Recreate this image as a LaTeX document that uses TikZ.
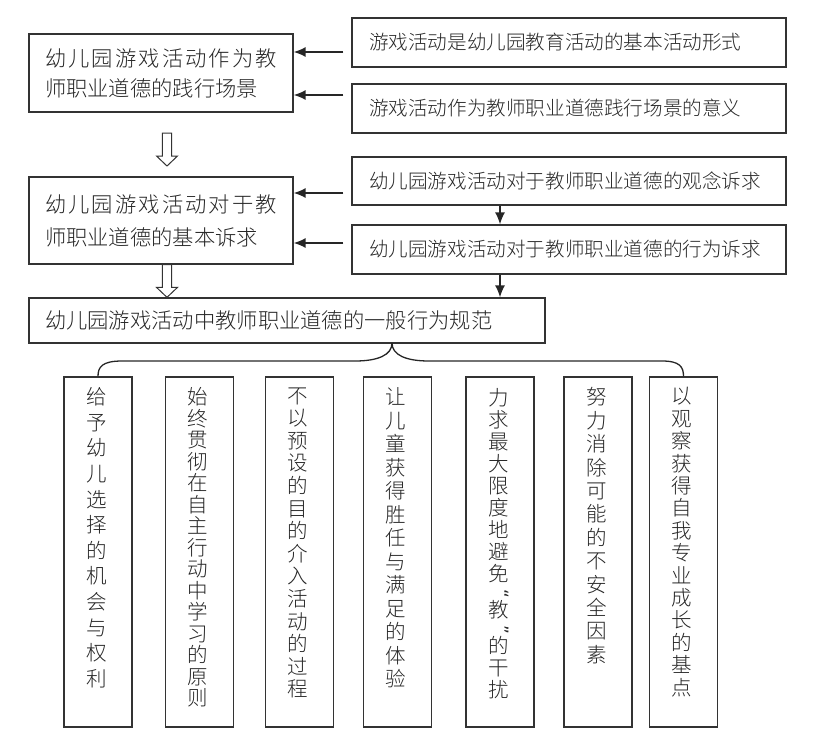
\documentclass[tikz,border=0pt]{standalone}
\usepackage{fontspec}
\setmainfont{Noto Sans CJK SC Light}
\newfontfamily\qfont{DejaVu Sans}
\usepackage{graphicx}
\usetikzlibrary{arrows.meta,calc}
\newcommand\qm[1]{\makebox[20pt][r]{\qfont\fontsize{17pt}{17pt}\selectfont\rotatebox[origin=c]{-90}{#1}}}
\newcommand\hollowarr[2]{\draw[hol] let \p1=(#1),\p2=(#2) in
  (\x1-4.7pt,\y1) -- (\x1-4.7pt,\y2+10pt) -- (\x1-10.5pt,\y2+10pt) -- (\x1,\y2)
  -- (\x1+10.5pt,\y2+10pt) -- (\x1+4.7pt,\y2+10pt) -- (\x1+4.7pt,\y1) -- cycle;}
\begin{document}
\begin{tikzpicture}[x=1pt,y=-1pt,
  box/.style={draw=black!80,line width=1.3pt,rectangle,inner ysep=0pt,text=black!85},
  rbox/.style={box,text width=400pt,inner xsep=17pt,minimum height=49pt,align=left,
    font=\fontsize{19.6pt}{24pt}\selectfont},
  lbox/.style={box,text width=232pt,inner xsep=16pt,align=left},
  vbox/.style={box,minimum width=68pt,minimum height=350pt,inner sep=0pt},
  vtext/.style={inner sep=0pt,align=center,anchor=north,text=black!85},
  arr/.style={draw=black!85,line width=1.4pt,-{Latex[length=12pt,width=10pt]}},
  hol/.style={draw=black!80,line width=1pt,fill=white},
  brace/.style={draw=black!85,line width=1.3pt}]
\useasboundingbox (0,0) rectangle (816,742);
% right column boxes
\node[rbox] (R1) at (569,42.5) {游戏活动是幼儿园教育活动的基本活动形式};
\node[rbox] (R2) at (569,108.5) {游戏活动作为教师职业道德践行场景的意义};
\node[rbox,minimum height=48pt] (R3) at (569,181) {幼儿园游戏活动对于教师职业道德的观念诉求};
\node[rbox] (R4) at (569,249.5) {幼儿园游戏活动对于教师职业道德的行为诉求};
% left column boxes
\node[lbox,minimum height=78pt,font=\fontsize{21.3pt}{30pt}\selectfont] (A) at (161,73)
  {\makebox[232pt][s]{幼\hfil 儿\hfil 园\hfil 游\hfil 戏\hfil 活\hfil 动\hfil 作\hfil 为\hfil 教}\\师职业道德的践行场景};
\node[lbox,minimum height=87pt,font=\fontsize{21.3pt}{33pt}\selectfont] (B) at (161,220.5)
  {\makebox[232pt][s]{幼\hfil 儿\hfil 园\hfil 游\hfil 戏\hfil 活\hfil 动\hfil 对\hfil 于\hfil 教}\\师职业道德的基本诉求};
\node[box,text width=484pt,inner xsep=16pt,minimum height=45pt,align=left,
  font=\fontsize{21.3pt}{26pt}\selectfont] (C) at (287,320.5)
  {幼儿园游戏活动中教师职业道德的一般行为规范};
% arrows into A and B
\coordinate (y1) at (0,52);
\coordinate (y2) at (0,95);
\coordinate (y3) at (0,193);
\coordinate (y4) at (0,243);
\coordinate (xa) at (500,0);
\draw[arr,shorten <=8pt] (R1.west |- y1) -- (A.east |- y1);
\draw[arr,shorten <=8pt] (R2.west |- y2) -- (A.east |- y2);
\draw[arr,shorten <=8pt] (R3.west |- y3) -- (B.east |- y3);
\draw[arr,shorten <=8pt] (R4.west |- y4) -- (B.east |- y4);
\draw[arr] (R3.south -| xa) -- (R4.north -| xa);
\draw[arr] (R4.south -| xa) -- (C.north -| xa);
% hollow arrows
\coordinate (h1s) at (167,133);
\coordinate (h1e) at (167,166);
\hollowarr{h1s}{h1e}
\hollowarr{B.south -| h1s}{C.north -| h1s}
% vertical boxes
\node[vbox] (v1) at (98,552) {};
\node[vbox] (v2) at (199.5,552) {};
\node[vbox] (v3) at (299.5,552) {};
\node[vbox] (v4) at (397.5,552) {};
\node[vbox] (v5) at (500,552) {};
\node[vbox] (v6) at (598,552) {};
\node[vbox] (v7) at (683.5,552) {};
\node[vtext,font=\fontsize{20.5pt}{25.6pt}\selectfont] (t1) at ($(v1.north)+(-1.5,11)$)
  {给\\予\\幼\\儿\\选\\择\\的\\机\\会\\与\\权\\利};
\node[vtext,font=\fontsize{20.5pt}{21.5pt}\selectfont] (t2) at ($(v2.north)+(-1.5,11)$)
  {始\\终\\贯\\彻\\在\\自\\主\\行\\动\\中\\学\\习\\的\\原\\则};
\node[vtext,font=\fontsize{20.5pt}{22.6pt}\selectfont] (t3) at ($(v3.north)+(-1.5,11)$)
  {不\\以\\预\\设\\的\\目\\的\\介\\入\\活\\动\\的\\过\\程};
\node[vtext,font=\fontsize{20.5pt}{23.5pt}\selectfont] (t4) at ($(v4.north)+(-1.5,11)$)
  {让\\儿\\童\\获\\得\\胜\\任\\与\\满\\足\\的\\体\\验};
\node[vtext,font=\fontsize{20.5pt}{22pt}\selectfont] (t5) at ($(v5.north)+(-1.5,12)$)
  {力\\求\\最\\大\\限\\度\\地\\避\\免\\[-4pt]\qm{“}\\[-4pt]教\\[-4pt]\qm{”}\\[-4pt]的\\干\\扰};
\node[vtext,font=\fontsize{20.5pt}{23.4pt}\selectfont] (t6) at ($(v6.north)+(-1.5,11)$)
  {努\\力\\消\\除\\可\\能\\的\\不\\安\\全\\因\\素};
\node[vtext,font=\fontsize{20.5pt}{22.4pt}\selectfont] (t7) at ($(v7.north)+(-1.5,11)$)
  {以\\观\\察\\获\\得\\自\\我\\专\\业\\成\\长\\的\\基\\点};
% brace
\coordinate (bt) at (392,343);
\draw[brace] (bt) .. controls (392,355) and (378,361) .. (355,361) -- (122,361)
  .. controls (102,361) and (98,367) .. (v1.north);
\draw[brace] (bt) .. controls (392,355) and (406,361) .. (429,361) -- (662,361)
  .. controls (680,361) and (683.5,367) .. (v7.north);
\end{tikzpicture}
\end{document}
